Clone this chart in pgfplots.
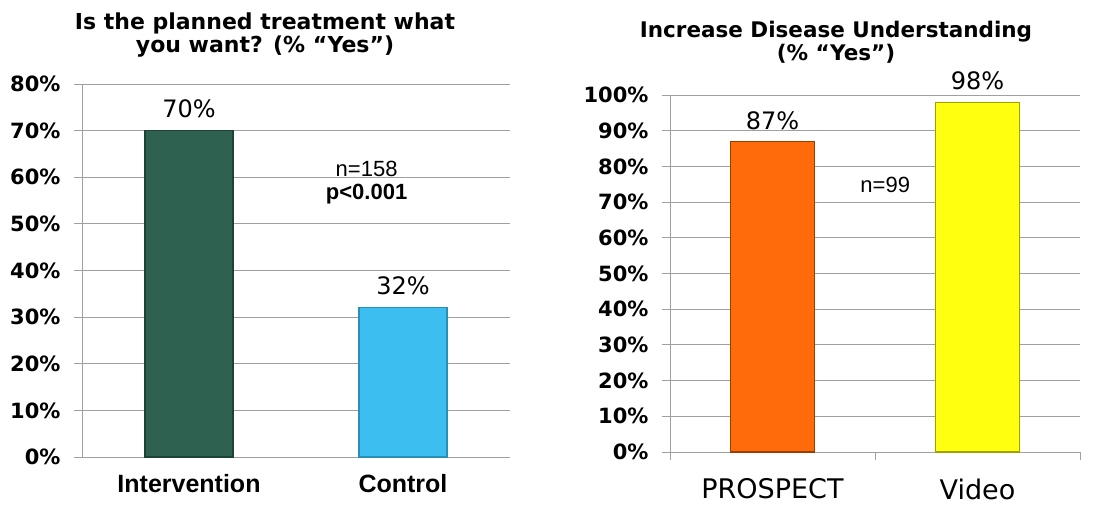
\documentclass[border=0pt]{standalone}
\usepackage{fontspec}
\setmainfont{DejaVu Sans}
\newfontfamily\arial{Liberation Sans}
\usepackage{pgfplots}
\pgfplotsset{compat=1.18}
\definecolor{intv}{HTML}{2F6150}
\definecolor{intvd}{HTML}{1F4236}
\definecolor{ctrl}{HTML}{3DBEF0}
\definecolor{ctrld}{HTML}{2A8FB8}
\definecolor{pros}{HTML}{FF6B0A}
\definecolor{prosd}{HTML}{9A3E00}
\definecolor{vid}{HTML}{FFFF10}
\definecolor{vidd}{HTML}{A0A000}
\definecolor{gridc}{HTML}{A0A0A0}
\begin{document}
\begin{tikzpicture}[x=1pt,y=1pt]
\useasboundingbox (0,0) rectangle (1100,504);
\pgfplotsset{
  common/.style={
    scale only axis, ybar, bar shift=0pt, clip=false,
    xmin=-0.5, xmax=1.5, ymin=0,
    axis x line*=bottom, axis y line*=left,
    axis line style={gridc, line width=0.9pt},
    ymajorgrids, grid style={draw=gridc, line width=0.9pt, shorten <=-8pt},
    tick align=outside, major tick length=8pt,
    every tick/.style={draw=gridc, line width=0.9pt},
    ytick pos=left, ytick align=outside,
    yticklabel style={font=\bfseries\fontsize{21}{21}\selectfont, xshift=-10pt},
    xtick={0,1},
    nodes near coords={\pgfmathprintnumber[assume math mode=true]{\pgfplotspointmeta}\%},
    every axis plot/.append style={line width=1.2pt},
  }
}
\begin{axis}[common,
  at={(82pt,47pt)}, anchor=south west, width=428pt, height=373pt,
  ymax=80, ytick={0,10,...,80},
  yticklabels={0\%,10\%,20\%,30\%,40\%,50\%,60\%,70\%,80\%},
  xticklabels={Intervention,Control},
  x tick style={draw=none},
  xticklabel style={font=\arial\bfseries\fontsize{25}{25}\selectfont, yshift=-6pt},
  nodes near coords style={font=\fontsize{24}{24}\selectfont, anchor=south, yshift=9pt},
  bar width=88pt]
\addplot[fill=intv, draw=intvd] coordinates {(0,70)};
\addplot[fill=ctrl, draw=ctrld] coordinates {(1,32)};
\node[font=\arial\fontsize{22}{22}\selectfont] at (axis cs:0.83,61.8) {n=158};
\node[font=\arial\bfseries\fontsize{22}{22}\selectfont] at (axis cs:0.83,56.3) {p<0.001};
\end{axis}
\node[font=\bfseries\fontsize{22}{23}\selectfont, align=center] at (265,469) {Is the planned treatment what\\you want? (\% “Yes”)};
\begin{axis}[common,
  at={(670pt,52pt)}, anchor=south west, width=410pt, height=357pt,
  ymax=100, ytick={0,10,...,100},
  yticklabels={0\%,10\%,20\%,30\%,40\%,50\%,60\%,70\%,80\%,90\%,100\%},
  xtick={-0.5,0.5,1.5}, xticklabels={},
  extra x ticks={0,1}, extra x tick labels={PROSPECT,Video},
  extra x tick style={major tick length=0pt, tick style={draw=none},
    xticklabel style={font=\fontsize{27}{27}\selectfont, yshift=-23pt}},
  nodes near coords style={font=\fontsize{24}{24}\selectfont, anchor=south, yshift=8pt},
  bar width=84pt]
\addplot[fill=pros, draw=prosd] coordinates {(0,87)};
\addplot[fill=vid, draw=vidd] coordinates {(1,98)};
\node[font=\arial\fontsize{22}{22}\selectfont] at (axis cs:0.55,74.8) {n=99};
\end{axis}
\node[font=\bfseries\fontsize{21.5}{23}\selectfont, align=center] at (836,462) {Increase Disease Understanding\\(\% “Yes”)};
\end{tikzpicture}
\end{document}
